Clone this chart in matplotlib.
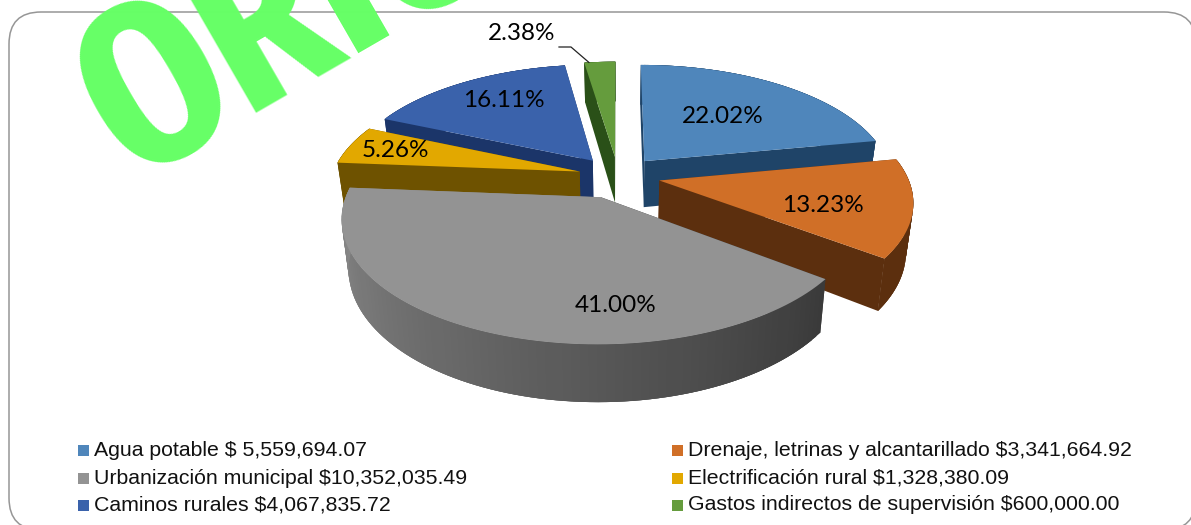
import numpy as np
import matplotlib
matplotlib.use("Agg")
import matplotlib.pyplot as plt
from matplotlib.patches import FancyBboxPatch, Polygon

categories = ["Agua potable", "Drenaje, letrinas y alcantarillado", "Urbanización municipal",
              "Electrificación rural", "Caminos rurales", "Gastos indirectos de supervisión"]
amounts = [5559694.07, 3341664.92, 10352035.49, 1328380.09, 4067835.72, 600000.00]
amount_labels = ["$ 5,559,694.07", "$3,341,664.92", "$10,352,035.49",
                 "$1,328,380.09", "$4,067,835.72", "$600,000.00"]

top_colors = ["#4f86bb", "#d06f27", "#939393", "#e2a800", "#3a62ab", "#659c3d"]
wall_colors = [("#1f4468", "#1f4468"), ("#5c2f0e", "#5c2f0e"), ("#3a3a3a", "#8c8c8c"),
               ("#6e5200", "#6e5200"), ("#1b3569", "#1b3569"), ("#2a5018", "#2a5018")]
explode = [0.17, 0.17, 0.19, 0.16, 0.17, 0.17]
label_r = [0.55, 0.66, 0.77, 0.80, 0.72, 0.0]
label_frac = [0.5, 0.6, 0.33, 0.5, 0.55, 0.15]
draw_order = [5, 0, 4, 3, 1, 2]

# projection of the tilted disk, in pixels
cx, cy = 618, 176
A, B = 248, 116
k = 0.16
depth = 47
conv = 0.975


def project(u, v, bottom=False):
    s = 1 / (1 - k * v)
    x = cx + A * u * s
    y = cy + B * v * s
    if bottom:
        x = cx + (x - cx) * conv
        y = y + depth * s
    return x, y


def lerp_color(c0, c1, t):
    a = np.array(matplotlib.colors.to_rgb(c0))
    b = np.array(matplotlib.colors.to_rgb(c1))
    return a + (b - a) * t


fig = plt.figure(figsize=(11.91, 5.25), dpi=100)
ax = fig.add_axes([0, 0, 1, 1])
ax.set_xlim(0, 1191)
ax.set_ylim(525, 0)
ax.axis("off")

# frame runs off the right and bottom of the picture
ax.add_patch(FancyBboxPatch((9, 12), 1187, 518, boxstyle="round,pad=0,rounding_size=32",
                            fc="white", ec="#969696", lw=1.1, zorder=1))

shares = np.array(amounts) / np.sum(amounts)
edges = np.concatenate([[0], np.cumsum(shares)]) * 360

z = 2
for i in draw_order:
    a0, a1 = edges[i], edges[i + 1]
    mid = np.radians((a0 + a1) / 2)
    du, dv = explode[i] * np.sin(mid), -explode[i] * np.cos(mid)
    th = np.radians(np.linspace(a0, a1, 90))
    u = du + np.sin(th)
    v = dv - np.cos(th)

    top_x, top_y = project(u, v)
    bot_x, bot_y = project(u, v, True)
    ax_, ay_ = project(du, dv)
    bx_, by_ = project(du, dv, True)

    # cut faces
    for end in (0, -1):
        ax.add_patch(Polygon([(ax_, ay_), (top_x[end], top_y[end]), (bot_x[end], bot_y[end]), (bx_, by_)],
                             fc=wall_colors[i][0 if end == 0 else 1], ec="none", zorder=z))
    z += 1
    # outer wall in overlapping strips so it can shade without seams
    for j in range(len(th) - 1):
        c = lerp_color(wall_colors[i][0], wall_colors[i][1], j / (len(th) - 2))
        j2 = min(j + 3, len(th) - 1)
        ax.add_patch(Polygon([(top_x[j], top_y[j]), (top_x[j2], top_y[j2]),
                              (bot_x[j2], bot_y[j2]), (bot_x[j], bot_y[j])],
                             fc=c, ec="none", zorder=z + j * 0.001))
    z += 1
    ax.add_patch(Polygon(np.column_stack([np.r_[ax_, top_x], np.r_[ay_, top_y]]),
                         fc=top_colors[i], ec="none", zorder=z))
    z += 1

label_font = {"family": "Lato", "fontsize": 17.5, "color": "black", "ha": "center", "va": "center"}
for i in range(len(amounts)):
    text = f"{shares[i] * 100:.2f}%"
    ang = np.radians(edges[i] + (edges[i + 1] - edges[i]) * label_frac[i])
    mid = np.radians((edges[i] + edges[i + 1]) / 2)
    du, dv = explode[i] * np.sin(mid), -explode[i] * np.cos(mid)
    if i == 5:
        ax.text(522, 34, text, zorder=40, **label_font)
        lx, ly = project(du + np.sin(ang), dv - np.cos(ang))
        ax.plot([559, 571, lx], [47, 47, ly], color="#222222", lw=0.9, zorder=40)
    else:
        lx, ly = project(du + label_r[i] * np.sin(ang), dv - label_r[i] * np.cos(ang))
        ax.text(lx, ly, text, zorder=40, **label_font)

# legend, filled row by row
col_x = [78, 672]
row_y = [450, 478, 505]
for i in range(len(categories)):
    x = col_x[i % 2]
    y = row_y[i // 2]
    ax.add_patch(plt.Rectangle((x, y - 5), 11, 11, fc=top_colors[i], ec="none", zorder=40))
    ax.text(x + 16, y, f"{categories[i]} {amount_labels[i]}", family="Liberation Sans",
            fontsize=15.35, color="#111111", va="center", ha="left", zorder=40)

# watermark, runs off the top of the page like the stamp does
ax.text(132, 181, "ORIGINAL", family=["Fira Sans Extra Condensed", "Anton", "Liberation Sans"],
        weight=700, fontsize=165, color="#66ff66", rotation=30, rotation_mode="anchor",
        ha="left", va="baseline", zorder=50, clip_on=True)

fig.savefig("out.png", dpi=100)
